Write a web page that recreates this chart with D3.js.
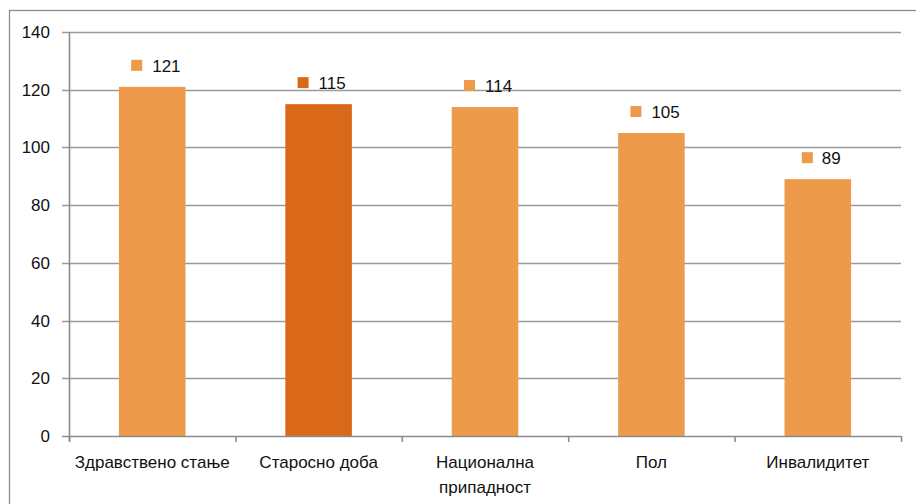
<!DOCTYPE html>
<html lang="mk">
<head>
    <meta charset="UTF-8">
    <title>Bar chart</title>
    <style>
        body { margin: 0; background: #fff; }
        svg { display: block; }
        .tickLabel, .catLabel, .valueLabel {
            font-family: "Liberation Sans", Arial, sans-serif;
            font-size: 17px;
            fill: #111;
        }
    </style>
    <script src="https://cdn.jsdelivr.net/npm/d3@7"></script>
</head>
<body>
<script>
    // data
    const categories = [["Здравствено стање"], ["Старосно доба"], ["Национална", "припадност"], ["Пол"], ["Инвалидитет"]];
    const values = [121, 115, 114, 105, 89];
    const barColors = ["#EE9A4B", "#DA6819", "#EE9A4B", "#EE9A4B", "#EE9A4B"];
    const yTicks = [0, 20, 40, 60, 80, 100, 120, 140];

    const width = 916, height = 504;
    const plot = {left: 69, right: 901, top: 32, bottom: 436};

    const svg = d3.select("body").append("svg")
        .attr("width", width)
        .attr("height", height);

    // outer frame (right / bottom edges fall outside the picture)
    svg.append("rect")
        .attr("x", 9.5).attr("y", 10.5)
        .attr("width", 940).attr("height", 540)
        .attr("fill", "none")
        .attr("stroke", "#8c8c8c")
        .attr("stroke-width", 1.3);

    const x = d3.scaleBand()
        .domain(d3.range(values.length))
        .range([plot.left, plot.right])
        .paddingInner(0.6)
        .paddingOuter(0.3);

    const y = d3.scaleLinear()
        .domain([0, 140])
        .range([plot.bottom, plot.top]);

    // grid lines
    svg.append("g")
        .selectAll("line")
        .data(yTicks.filter(d => d > 0))
        .enter()
        .append("line")
        .attr("x1", plot.left - 7).attr("x2", plot.right)
        .attr("y1", d => Math.round(y(d)) + 0.5).attr("y2", d => Math.round(y(d)) + 0.5)
        .attr("stroke", "#9a9a9a")
        .attr("stroke-width", 1.3);

    // y tick labels
    svg.append("g")
        .selectAll("text")
        .data(yTicks)
        .enter()
        .append("text")
        .attr("class", "tickLabel")
        .attr("x", plot.left - 19)
        .attr("y", d => y(d))
        .attr("dy", "0.35em")
        .attr("text-anchor", "end")
        .text(d => d);

    // bars
    svg.append("g")
        .selectAll("rect")
        .data(values)
        .enter()
        .append("rect")
        .attr("x", (d, i) => x(i))
        .attr("y", d => y(d))
        .attr("width", x.bandwidth())
        .attr("height", d => y(0) - y(d))
        .attr("fill", (d, i) => barColors[i]);

    // y axis line + zero tick
    svg.append("line")
        .attr("x1", plot.left + 0.5).attr("x2", plot.left + 0.5)
        .attr("y1", plot.top).attr("y2", plot.bottom + 5)
        .attr("stroke", "#8c8c8c").attr("stroke-width", 1.6);

    // x axis line with ticks at category boundaries
    svg.append("line")
        .attr("x1", plot.left - 7).attr("x2", plot.right)
        .attr("y1", plot.bottom + 0.5).attr("y2", plot.bottom + 0.5)
        .attr("stroke", "#8c8c8c").attr("stroke-width", 1.6);

    const step = (plot.right - plot.left) / values.length;
    svg.append("g")
        .selectAll("line")
        .data(d3.range(values.length + 1))
        .enter()
        .append("line")
        .attr("x1", i => plot.left + i * step + 0.5)
        .attr("x2", i => plot.left + i * step + 0.5)
        .attr("y1", plot.bottom)
        .attr("y2", plot.bottom + 6)
        .attr("stroke", "#8c8c8c").attr("stroke-width", 1.6);

    // category labels
    const cats = svg.append("g")
        .selectAll("text")
        .data(categories)
        .enter()
        .append("text")
        .attr("class", "catLabel")
        .attr("text-anchor", "middle")
        .attr("transform", (d, i) => `translate(${x(i) + x.bandwidth() / 2},${plot.bottom + 32})`);
    cats.selectAll("tspan")
        .data(d => d)
        .enter()
        .append("tspan")
        .attr("x", 0)
        .attr("y", (d, j) => j * 25)
        .text(d => d);

    // value labels: small square marker + number
    const labels = svg.append("g")
        .selectAll("g")
        .data(values)
        .enter()
        .append("g")
        .attr("transform", (d, i) => `translate(${x(i) + x.bandwidth() / 2},${y(d) - 21})`);
    labels.append("rect")
        .attr("x", (d) => (d >= 100 ? -21 : -16))
        .attr("y", -6)
        .attr("width", 11).attr("height", 11)
        .attr("fill", (d, i) => barColors[i]);
    labels.append("text")
        .attr("class", "valueLabel")
        .attr("x", (d) => (d >= 100 ? 0 : 4))
        .attr("dy", "0.35em")
        .text(d => d);
</script>
</body>
</html>
